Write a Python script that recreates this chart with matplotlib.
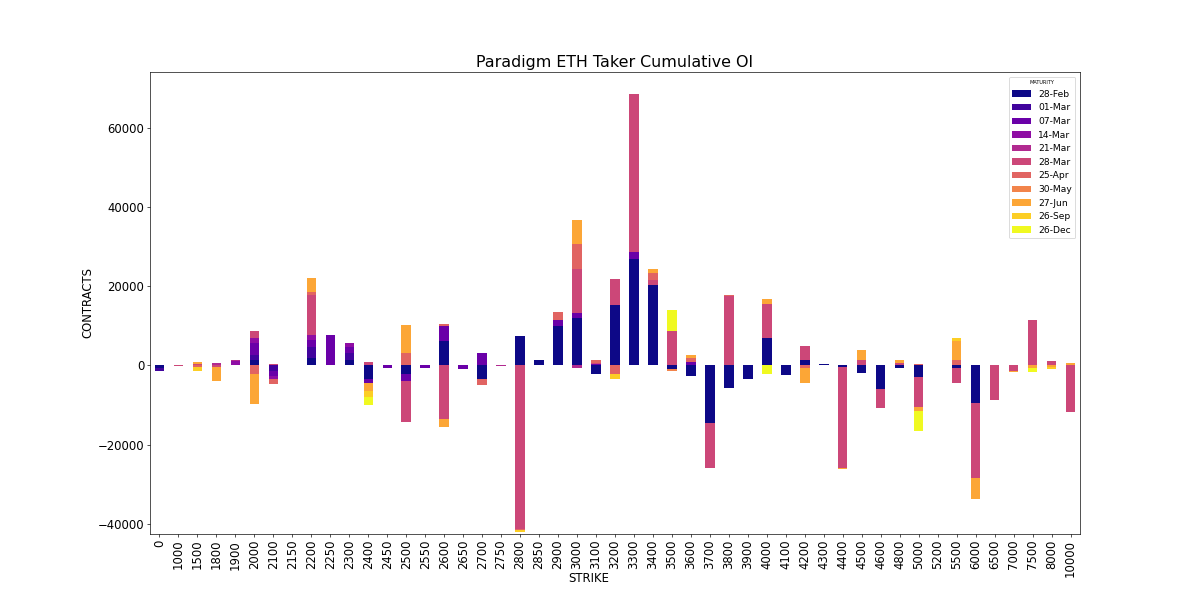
import numpy as np
import pandas as pd
import matplotlib
matplotlib.use("Agg")
import matplotlib.pyplot as plt

# strikes on the x axis
strikes = [0, 1000, 1500, 1800, 1900, 2000, 2100, 2150, 2200, 2250,
           2300, 2400, 2450, 2500, 2550, 2600, 2650, 2700, 2750, 2800,
           2850, 2900, 3000, 3100, 3200, 3300, 3400, 3500, 3600, 3700,
           3800, 3900, 4000, 4100, 4200, 4300, 4400, 4500, 4600, 4800,
           5000, 5200, 5500, 6000, 6500, 7000, 7500, 8000, 10000]

maturities = ['28-Feb', '01-Mar', '07-Mar', '14-Mar', '21-Mar', '28-Mar',
              '25-Apr', '30-May', '27-Jun', '26-Sep', '26-Dec']

# cumulative OI (contracts) per maturity, one value per strike
feb28 = [-600, 0, 0, 0, 0, 1500, 0, 0, 1900, 0,
         1500, -3350, 0, -2250, 0, 6100, 0, -3350, 0, 7400,
         1400, 9900, 12000, -2200, 15300, 27000, 20400, -800, -2600, -14600,
         -5600, -3350, 7000, -2500, 1350, 400, -500, -1850, -6050, -600,
         -2900, 0, -600, -9400, 0, 0, 0, 0, 0]
mar01 = [-800, 0, 0, 0, 0, 1250, -1300, 0, 2900, 0,
         1700, 0, 0, 0, 0, 0, 0, 0, 0, 0,
         0, 0, 0, 0, 0, 0, 0, 0, 0, 0,
         0, 0, 0, 0, 0, 0, 0, 0, 0, 0,
         0, 200, 0, 0, 0, 0, 0, 0, 0]
mar07 = [0, 0, 0, 0, 0, 2900, -1300, 0, 1700, 7800,
         1500, -1200, -600, -1700, -700, 3800, -900, 3200, 0, 0,
         0, 1500, 1250, 300, 0, 1600, 0, 0, 900, 0,
         0, 0, 0, 0, 0, 0, 0, 0, 0, 0,
         0, 0, 0, 0, 0, 0, 0, 0, 0]
mar14 = [0, 0, 0, 0, 1100, 1250, -900, 0, 1250, 0,
         1000, 0, 0, 0, 0, 0, 0, 0, 0, 0,
         0, 0, 0, 0, 0, 0, 0, 0, 0, 0,
         0, 0, 0, 0, 0, 0, 0, 0, 0, 0,
         0, 0, 0, 0, 0, 0, 0, 0, 0]
mar21 = [0, 0, 0, 700, 250, 0, 0, 0, 0, 0,
         0, 0, 0, 0, 0, 0, 0, 0, -200, 0,
         0, 0, -600, 0, 0, 0, 0, 0, 0, 0,
         0, 0, 0, 0, 0, 0, 0, 0, 0, 0,
         0, 0, 0, 0, 0, 0, 0, 0, 0]
mar28 = [0, -200, 300, -300, 0, 1850, 400, 0, 10100, 0,
         0, 900, 0, -10350, 0, -13600, 0, 0, 0, -41300,
         0, 0, 11100, 300, 6500, 40000, 1250, 8650, 0, -11400,
         17500, 0, 8550, 0, 3700, 0, -25300, 1500, -4600, 600,
         -7600, 0, -3800, -19100, -8600, -1400, 11600, 1100, -11700]
apr25 = [0, 0, -300, 0, 0, -2100, -1300, 0, 850, 0,
         0, 0, 0, 3200, 0, 600, 0, -1700, 0, -400,
         0, 2200, 6350, 800, -2250, 0, 1850, 0, 1100, 0,
         200, 0, 0, 0, -600, 0, 0, 0, 0, 0,
         300, 0, 1350, 0, 0, 0, 0, 0, 0]
may30 = [0, 0, 0, 0, 0, 0, 0, 0, 0, 0,
         0, 0, 0, 0, 0, 0, 0, 0, 0, 0,
         0, 0, 0, 0, 0, 0, 0, -600, 0, 0,
         0, 0, 0, 0, 0, 0, 0, 0, 0, 0,
         0, 0, 0, 0, 0, 0, 0, 0, 0]
jun27 = [0, 0, 500, -3600, 0, -7700, 0, 0, 3350, 0,
         0, -1900, 0, 7100, 0, -1900, 0, 0, 0, 0,
         0, 0, 6100, 0, 0, 0, 1000, 0, 700, 0,
         0, 0, 1350, 0, -3750, 0, -300, 2350, 0, 800,
         -1000, 0, 4800, -5200, -200, -150, -600, -300, 600]
sep26 = [0, 0, -1100, 0, 0, 0, 0, 0, 0, 0,
         0, -1450, 0, 0, 0, 0, 0, 0, 0, -500,
         0, 0, 0, 0, -1200, 0, 0, 0, 0, 0,
         0, 0, 0, 0, 0, 0, 0, 0, 0, 0,
         0, 0, 750, 0, 0, 0, 0, -600, 0]
dec26 = [0, 0, 0, 0, 0, 0, 0, 0, 0, 0,
         0, -2100, 0, 0, 0, 0, 0, 0, 0, 0,
         0, 0, 0, 0, 0, 0, 0, 5450, 0, 0,
         0, 0, -2100, 0, 0, 0, 0, 0, 0, 0,
         -5000, 0, 0, 0, 0, 0, -1000, 0, 0]

series = [feb28, mar01, mar07, mar14, mar21, mar28,
          apr25, may30, jun27, sep26, dec26]
df = pd.DataFrame(dict(zip(maturities, series)), index=strikes)

fig, ax = plt.subplots(figsize=(20, 10), dpi=60)
df.plot(kind='bar', stacked=True, colormap='plasma', ax=ax)

ax.set_title('Paradigm ETH Taker Cumulative OI', fontsize=19)
ax.set_xlabel('STRIKE', fontsize=14)
ax.set_ylabel('CONTRACTS', fontsize=14)
ax.xaxis.set_label_coords(0.472, -0.083)
ax.tick_params(axis='both', labelsize=14)
ax.set_ylim(-42600, 74200)
ax.legend(title='MATURITY', loc='upper right', fontsize=11, title_fontsize=6)

plt.savefig('out.png', dpi=60)
